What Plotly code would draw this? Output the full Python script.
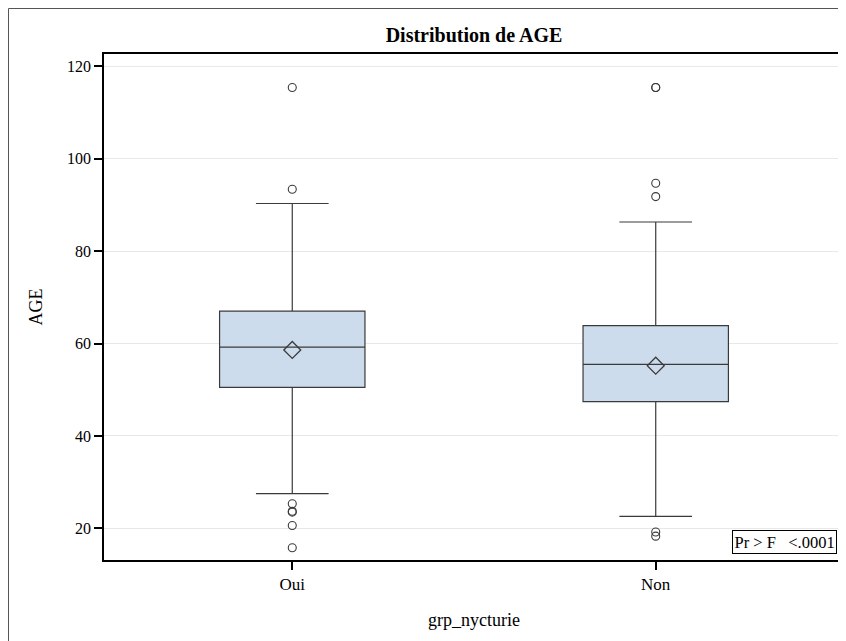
import plotly.graph_objects as go

# ---- data ----
categories = ["Oui", "Non"]
q1 = [50.5, 47.4]
median = [59.2, 55.5]
q3 = [67.0, 63.85]
lower_whisker = [27.5, 22.6]
upper_whisker = [90.3, 86.3]
means = [58.6, 55.2]
outliers_oui = [115.4, 93.4, 25.3, 23.7, 23.5, 20.6, 15.8]
outliers_non = [115.4, 115.4, 94.7, 91.8, 19.2, 18.3]
y_ticks = [20, 40, 60, 80, 100, 120]

FONT = "Liberation Serif, Times New Roman, serif"
FILL = "#CDDCEC"
LINE = "#3A3A3A"

fig = go.Figure()

fig.add_trace(go.Box(
    x=categories, q1=q1, median=median, q3=q3,
    lowerfence=lower_whisker, upperfence=upper_whisker,
    width=0.4, whiskerwidth=0.5, fillcolor=FILL,
    line=dict(color=LINE, width=1.2), boxpoints=False,
    showlegend=False,
))

out_x = [categories[0]] * len(outliers_oui) + [categories[1]] * len(outliers_non)
out_y = outliers_oui + outliers_non
fig.add_trace(go.Scatter(
    x=out_x, y=out_y, mode="markers", showlegend=False,
    marker=dict(symbol="circle-open", size=8, color=LINE, line=dict(width=1.1, color=LINE)),
))

fig.add_trace(go.Scatter(
    x=categories, y=means, mode="markers", showlegend=False,
    marker=dict(symbol="diamond-open", size=13, color=LINE, line=dict(width=1.3, color=LINE)),
))

# the page body adds an 8px margin, so the figure is drawn 8px in from the corner
OFF = 8
W, H = 846 - OFF, 641 - OFF
L, R, T, B = 104 - OFF, 2, 54 - OFF, 81
pw = W - L - R
ph = H - T - B


def px_x(px):
    return (px - OFF - L) / pw


def px_y(py):
    return (H - B - (py - OFF)) / ph


fig.update_layout(
    width=W, height=H,
    margin=dict(l=L, r=R, t=T, b=B, autoexpand=False),
    paper_bgcolor="white", plot_bgcolor="white",
    font=dict(family=FONT, size=16, color="black"),
    title=dict(text="Distribution de AGE", x=0.5, xref="paper",
               y=1 - (35 - OFF) / H, yanchor="middle", xanchor="center",
               font=dict(family=FONT, size=20, color="black", weight="bold")),
    xaxis=dict(type="category", categoryorder="array", categoryarray=categories,
               range=[-0.518, 1.518], showline=True, linecolor="black", linewidth=1.5,
               mirror=True, ticks="outside", ticklen=8, tickwidth=1.5, tickcolor="black",
               showgrid=False, zeroline=False, automargin=False,
               tickfont=dict(family=FONT, size=17, color="black")),
    yaxis=dict(range=[13.14, 122.66], tickvals=y_ticks, showline=True, linecolor="black",
               linewidth=1.5, mirror=True, ticks="outside", ticklen=8, tickwidth=1.5,
               tickcolor="black", showgrid=True, gridcolor="#E8E8E8", gridwidth=1,
               zeroline=False, automargin=False,
               tickfont=dict(family=FONT, size=16, color="black")),
    annotations=[
        dict(text="AGE", textangle=-90, xref="paper", yref="paper",
             x=px_x(35.5), y=px_y(307), xanchor="center", yanchor="middle", showarrow=False,
             font=dict(family=FONT, size=18, color="black")),
        dict(text="grp_nycturie", xref="paper", yref="paper",
             x=0.5, y=px_y(620), xanchor="center", yanchor="middle", showarrow=False,
             font=dict(family=FONT, size=18, color="black")),
        dict(text="Pr &gt; F&nbsp;&nbsp;&nbsp;&lt;.0001", xref="paper", yref="paper",
             x=px_x(836.7), y=px_y(553.7), xanchor="right", yanchor="bottom",
             showarrow=False, bordercolor="black", borderwidth=1, borderpad=1.5,
             bgcolor="white", font=dict(family=FONT, size=16.5, color="black")),
    ],
    shapes=[
        dict(type="rect", xref="paper", yref="paper",
             x0=px_x(OFF + 0.5), x1=px_x(870), y0=px_y(680), y1=px_y(OFF + 0.5),
             line=dict(color="#555555", width=1), fillcolor="rgba(0,0,0,0)", layer="above"),
    ],
)

fig.write_html("out.html")
